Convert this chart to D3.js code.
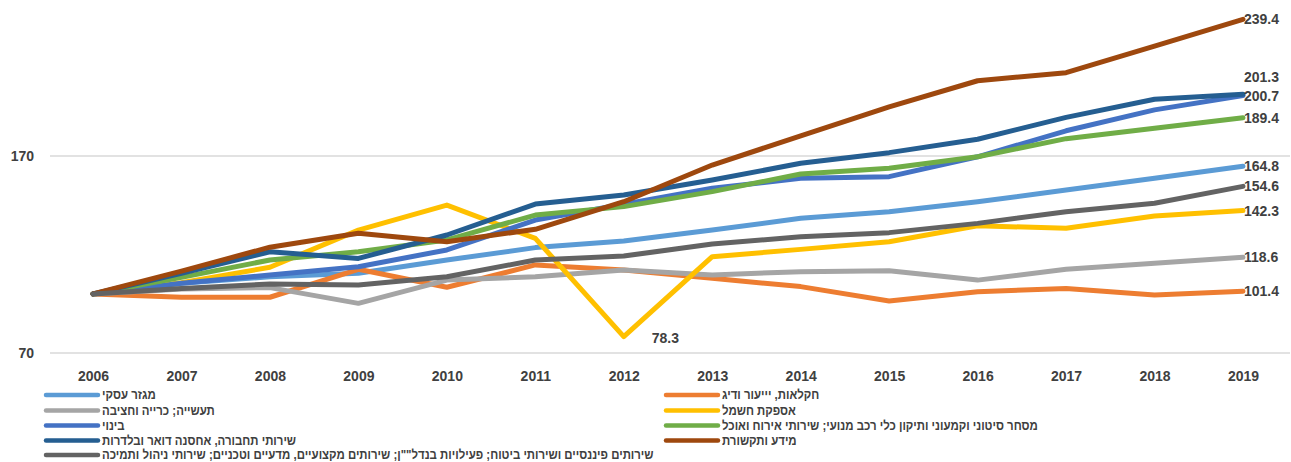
<!DOCTYPE html>
<html>
<head>
<meta charset="utf-8">
<script src="https://cdn.jsdelivr.net/npm/d3@7/dist/d3.min.js"></script>
<style>
  html, body { margin: 0; padding: 0; background: #fff; }
  svg { display: block; }
  text { font-family: "Liberation Sans", "DejaVu Sans", sans-serif; font-weight: bold; fill: #404040; }
</style>
</head>
<body>
<svg id="chart" width="1291" height="462"></svg>
<script>
const years = [2006, 2007, 2008, 2009, 2010, 2011, 2012, 2013, 2014, 2015, 2016, 2017, 2018, 2019];
const yTicks = [70, 170];

const seriesNames = [
  "מגזר עסקי",
  "חקלאות, יייעור ודיג",
  "תעשייה; כרייה וחציבה",
  "אספקת חשמל",
  "בינוי",
  "מסחר סיטוני וקמעוני ותיקון כלי רכב מנועי; שירותי אירוח ואוכל",
  "שירותי תחבורה, אחסנה דואר ובלדרות",
  "מידע ותקשורת",
  "שירותים פיננסיים ושירותי ביטוח; פעילויות בנדל\"\"ן; שירותים מקצועיים, מדעיים וטכניים; שירותי ניהול ותמיכה"
];

const businessSector = [100, 105.4, 108.7, 110.5, 117.2, 123.5, 126.9, 132.4, 138.4, 141.7, 146.8, 152.7, 158.7, 164.8];
const agriculture    = [100, 98.3, 98.3, 112.5, 103.4, 114.7, 112.1, 107.9, 103.7, 96.4, 101.1, 102.8, 99.4, 101.4];
const industry       = [100, 102.5, 103.2, 95.2, 107.0, 108.7, 112.1, 109.6, 111.3, 111.8, 107.0, 112.5, 115.5, 118.6];
const electricity    = [100, 105.7, 113.5, 132.4, 145.1, 128.2, 78.3, 118.9, 122.6, 126.5, 134.6, 133.3, 139.5, 142.3];
const construction   = [100, 105.4, 109.6, 113.8, 122.3, 137.5, 145.5, 153.6, 158.7, 159.5, 169.6, 182.8, 193.4, 200.7];
const trade          = [100, 108.4, 117.2, 121.4, 127.4, 140.0, 144.3, 151.9, 160.9, 163.8, 169.6, 178.8, 184.1, 189.4];
const transport      = [100, 110.5, 121.4, 118.0, 129.9, 145.6, 150.2, 157.8, 166.3, 171.7, 178.5, 189.6, 198.8, 201.3];
const infoComm       = [100, 111.6, 123.7, 130.8, 126.5, 132.8, 146.8, 165.4, 180.2, 194.9, 208.2, 212.3, 225.8, 239.4];
const financial      = [100, 102.8, 105.0, 104.5, 108.7, 117.2, 119.2, 125.3, 129.0, 131.1, 135.8, 141.7, 146.0, 154.6];

const seriesValues = [businessSector, agriculture, industry, electricity, construction, trade, transport, infoComm, financial];
const colors = ["#5B9BD5", "#ED7D31", "#A5A5A5", "#FFC000", "#4472C4", "#70AD47", "#255E91", "#9E480E", "#636363"];

const svg = d3.select("#chart");

const x = d3.scalePoint().domain(years).range([93, 1243]);
const y = d3.scaleLinear().domain([70, 170]).range([353, 156]);

// gridlines
svg.append("g").selectAll("line").data(yTicks).join("line")
  .attr("x1", 50).attr("x2", 1290)
  .attr("y1", d => y(d)).attr("y2", d => y(d))
  .attr("stroke", "#d9d9d9").attr("stroke-width", 1.5);

// y axis labels
const yAxis = d3.axisLeft(y).tickValues(yTicks).tickSize(0).tickPadding(0).tickFormat(d3.format("d"));
const gy = svg.append("g").attr("transform", "translate(34,0)").call(yAxis);
gy.select(".domain").remove();
gy.selectAll("text").attr("font-size", 14).style("font-family", "'Liberation Sans', sans-serif").style("font-weight", "bold").attr("fill", "#404040");

// x axis labels
const xAxis = d3.axisBottom(x).tickSize(0).tickPadding(0);
const gx = svg.append("g").attr("transform", "translate(0,371)").call(xAxis);
gx.select(".domain").remove();
gx.selectAll("text").attr("font-size", 14).style("font-family", "'Liberation Sans', sans-serif").style("font-weight", "bold").attr("fill", "#404040");

// lines
const line = d3.line().x((d, i) => x(years[i])).y(d => y(d));
svg.append("g").selectAll("path").data(seriesValues).join("path")
  .attr("d", d => line(d))
  .attr("fill", "none")
  .attr("stroke", (d, i) => colors[i])
  .attr("stroke-width", 5)
  .attr("stroke-linejoin", "round")
  .attr("stroke-linecap", "round");

// end labels
const labelOffsets = [0, 0, 0, 0, 0, 0, -17, 0, 0];
svg.append("g").selectAll("text").data(seriesValues).join("text")
  .attr("x", x(2019) + 1)
  .attr("y", (d, i) => y(d[d.length - 1]) + labelOffsets[i])
  .attr("dy", "0.36em")
  .attr("font-size", 14)
  .text(d => d3.format(".1f")(d[d.length - 1]));

// minimum label for electricity
const minIdx = electricity.indexOf(d3.min(electricity));
svg.append("text")
  .attr("x", x(years[minIdx]) + 28)
  .attr("y", y(electricity[minIdx]) + 1)
  .attr("dy", "0.36em")
  .attr("font-size", 14)
  .text(d3.format(".1f")(electricity[minIdx]));

// legend
const legendCols = [46, 666];
const legendRowY = [395, 410.5, 425.5, 440.5, 455];
const lg = svg.append("g");
seriesNames.forEach((name, i) => {
  const col = i % 2;
  const row = Math.floor(i / 2);
  const lx = legendCols[col];
  const ly = legendRowY[row];
  lg.append("line")
    .attr("x1", lx).attr("x2", lx + 52)
    .attr("y1", ly).attr("y2", ly)
    .attr("stroke", colors[i]).attr("stroke-width", 4.5)
    .attr("stroke-linecap", "round");
  lg.append("text")
    .attr("transform", `translate(${lx + 56},${ly}) scale(0.88,1)`)
    .attr("x", 0)
    .attr("y", 0)
    .attr("dy", "0.34em")
    .attr("font-size", 13)
    .attr("direction", "rtl")
    .attr("text-anchor", "end")
    .text(name);
});
</script>
</body>
</html>
